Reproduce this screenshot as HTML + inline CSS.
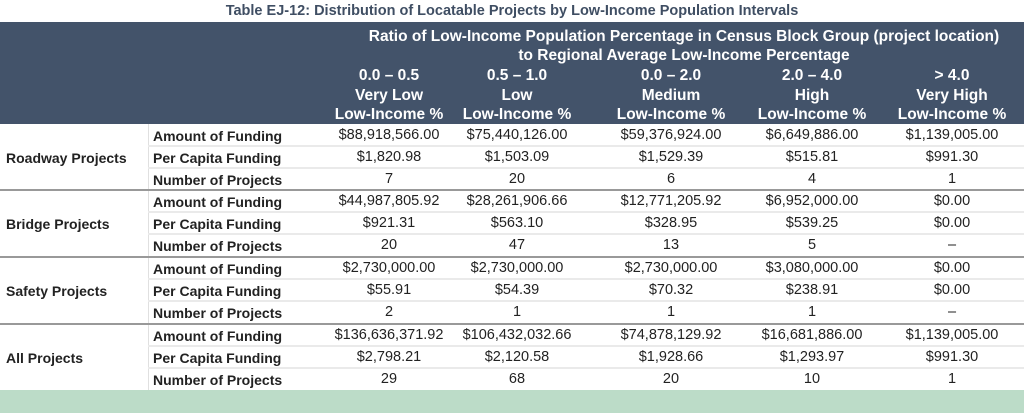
<!DOCTYPE html>
<html><head><meta charset="utf-8"><style>
body{margin:0;width:1024px;height:413px;background:#fff;font-family:"Liberation Sans",sans-serif;position:relative;overflow:hidden}
.a{position:absolute;white-space:nowrap}
.t{left:0;width:1024px;text-align:center;top:3px;font-size:14.5px;font-weight:bold;color:#3f4e63}
.hd{position:absolute;left:0;top:22px;width:1024px;height:102px;background:#43536a}
.h{color:#fff;font-weight:bold;font-size:15.5px;text-align:center;transform:translateX(-50%)}
.c{font-size:14.5px;color:#222;text-align:center;transform:translateX(-50%)}
.l{font-size:14px;font-weight:bold;color:#222}
.hl{position:absolute;left:148px;width:876px;height:2px;background:#eaeaea}
.gl{position:absolute;left:0;width:1024px;height:2px;background:#999}
</style></head><body>
<div class="a t">Table EJ-12: Distribution of Locatable Projects by Low-Income Population Intervals</div>
<div class="hd"></div>
<div class="a h" style="left:684px;top:27px;line-height:19px">Ratio of Low-Income Population Percentage in Census Block Group (project location)<br>to Regional Average Low-Income Percentage</div>
<div class="a h" style="left:389px;top:66px;line-height:19.5px">0.0 – 0.5<br>Very Low<br>Low-Income %</div>
<div class="a h" style="left:517px;top:66px;line-height:19.5px">0.5 – 1.0<br>Low<br>Low-Income %</div>
<div class="a h" style="left:671px;top:66px;line-height:19.5px">0.0 – 2.0<br>Medium<br>Low-Income %</div>
<div class="a h" style="left:812px;top:66px;line-height:19.5px">2.0 – 4.0<br>High<br>Low-Income %</div>
<div class="a h" style="left:952px;top:66px;line-height:19.5px">&gt; 4.0<br>Very High<br>Low-Income %</div>
<div style="position:absolute;left:148px;top:124px;width:1px;height:266px;background:#e0e0e0"></div>
<div style="position:absolute;left:0;top:390px;width:1024px;height:23px;background:#bcdcc8"></div>
<div id="rows"></div>
<script>
var groups=[["Roadway Projects",[["$88,918,566.00","$75,440,126.00","$59,376,924.00","$6,649,886.00","$1,139,005.00"],["$1,820.98","$1,503.09","$1,529.39","$515.81","$991.30"],["7","20","6","4","1"]]],
["Bridge Projects",[["$44,987,805.92","$28,261,906.66","$12,771,205.92","$6,952,000.00","$0.00"],["$921.31","$563.10","$328.95","$539.25","$0.00"],["20","47","13","5","–"]]],
["Safety Projects",[["$2,730,000.00","$2,730,000.00","$2,730,000.00","$3,080,000.00","$0.00"],["$55.91","$54.39","$70.32","$238.91","$0.00"],["2","1","1","1","–"]]],
["All Projects",[["$136,636,371.92","$106,432,032.66","$74,878,129.92","$16,681,886.00","$1,139,005.00"],["$2,798.21","$2,120.58","$1,928.66","$1,293.97","$991.30"],["29","68","20","10","1"]]]];
var labs=["Amount of Funding","Per Capita Funding","Number of Projects"],cx=[389,517,671,812,952],tops=[124,190,257,324],h="";
groups.forEach(function(g,gi){var t=tops[gi];
if(gi>0)h+='<div class="gl" style="top:'+(t-1)+'px"></div>';
h+='<div class="a l" style="left:6px;top:'+(t+26)+'px">'+g[0]+'</div>';
for(var r=0;r<3;r++){var y=t+r*22;
if(r>0)h+='<div class="hl" style="top:'+(y-1)+'px"></div>';
h+='<div class="a l" style="left:153px;top:'+(y+4)+'px">'+labs[r]+'</div>';
for(var c=0;c<5;c++)h+='<div class="a c" style="left:'+cx[c]+'px;top:'+(y+3)+'px">'+g[1][r][c]+'</div>';}});
document.getElementById("rows").innerHTML=h;
</script>
</body></html>
